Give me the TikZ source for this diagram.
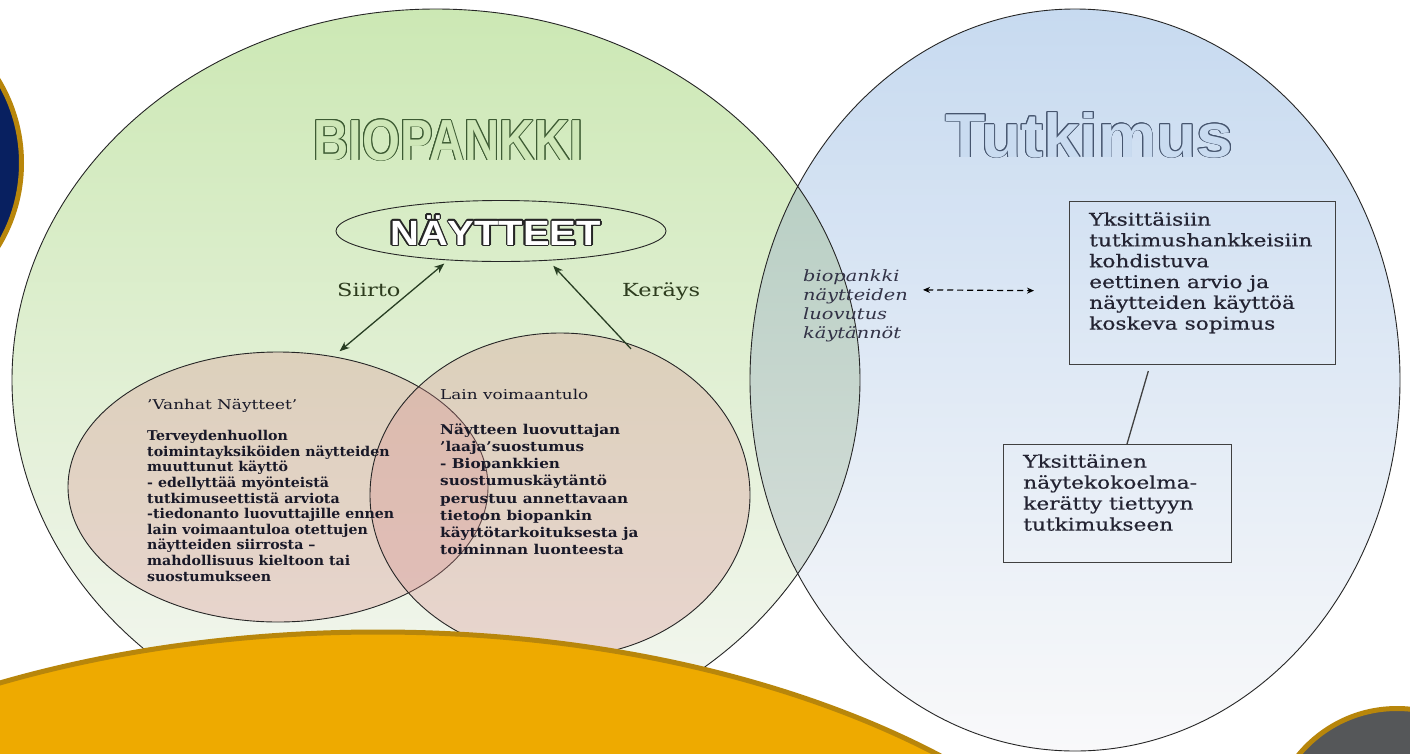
\documentclass[tikz,border=0pt]{standalone}
\usepackage{fontspec}
\usetikzlibrary{shapes.geometric,arrows.meta,calc}
\setmainfont{DejaVu Serif}
\newfontfamily\sr[FakeStretch=1.25]{DejaVu Serif}
\newfontfamily\srb[FakeStretch=1.24,FakeBold=0.4]{DejaVu Serif}
\newfontfamily\sbfa[FakeStretch=1.05]{DejaVu Serif}
\newfontfamily\sbf[FakeStretch=1.13]{DejaVu Serif}
\newfontfamily\tnarrow[FakeStretch=0.84]{Liberation Sans}
\newfontfamily\tsans[FakeStretch=1.06]{Liberation Sans}
\newfontfamily\twide[FakeStretch=1.14]{Liberation Sans}
\newcommand\mynolsl{\lineskiplimit=-20pt\relax}
\definecolor{gTop}{RGB}{204,232,180}
\definecolor{gMid}{RGB}{214,230,200}
\definecolor{gBot}{RGB}{246,247,244}
\definecolor{bTop}{RGB}{199,218,240}
\definecolor{bMid}{RGB}{216,225,238}
\definecolor{bBot}{RGB}{249,249,250}
\definecolor{lTop}{RGB}{174,202,188}
\definecolor{lBot}{RGB}{222,226,224}
\definecolor{pinkc}{RGB}{215,140,140}
\definecolor{bioline}{RGB}{60,90,50}
\definecolor{biofill}{RGB}{206,231,183}
\definecolor{tutline}{RGB}{70,85,110}
\definecolor{tutfill}{RGB}{201,219,240}
\definecolor{arrgreen}{RGB}{40,62,35}
\definecolor{lblgreen}{RGB}{45,60,30}
\definecolor{bodytext}{RGB}{25,25,40}
\definecolor{lenstext}{RGB}{50,50,70}
\definecolor{boxtext}{RGB}{35,35,50}
\definecolor{gold}{RGB}{184,134,11}
\definecolor{navy}{RGB}{8,32,96}
\definecolor{amber}{RGB}{238,170,0}
\definecolor{slate}{RGB}{85,87,89}
\tikzset{
  outl/.style={draw=black!85, line width=0.9pt},
  pinkell/.style={ellipse, inner sep=0pt, fill=pinkc, fill opacity=0.3, draw=black!85, line width=0.9pt},
  arr/.style={draw=arrgreen, line width=1.3pt, -{Stealth[length=10pt,width=8pt]}},
  darr/.style={draw=arrgreen, line width=1.3pt, {Stealth[length=10pt,width=8pt]}-{Stealth[length=10pt,width=8pt]}},
  dasharr/.style={draw=black, line width=1.2pt, dash pattern=on 6pt off 4pt, {Stealth[length=7pt,width=6pt]}-{Stealth[length=7pt,width=6pt]}},
  boxn/.style={draw=black!75, line width=1.3pt, inner sep=0pt, anchor=north west},
  conn/.style={draw=black!75, line width=1.3pt},
  txt/.style={inner sep=0pt, anchor=north west, align=left},
  bigshape/.style={draw=gold, line width=5pt}
}
\begin{document}
\begin{tikzpicture}[x=1pt,y=-1pt]
\useasboundingbox (0,0) rectangle (1410,753);
\clip (0,0) rectangle (1410,753);
\fill[white] (0,0) rectangle (1410,753);
% big ellipses
\shade[top color=gTop, middle color=gMid, bottom color=gBot] (436,380) ellipse [x radius=424, y radius=371];
\shade[top color=bTop, middle color=bMid, bottom color=bBot] (1075,380) ellipse [x radius=325, y radius=371];
\begin{scope}
  \clip (436,380) ellipse [x radius=424, y radius=371];
  \shade[top color=lTop, bottom color=lBot] (1075,380) ellipse [x radius=325, y radius=371];
\end{scope}
\draw[outl] (436,380) ellipse [x radius=424, y radius=371];
\draw[outl] (1075,380) ellipse [x radius=325, y radius=371];
% titles
\foreach \a in {0,30,...,330}
  \node[font=\tnarrow\bfseries\fontsize{58}{58}\selectfont, text=bioline, anchor=base, inner sep=0pt] (bioo\a) at ($(448.5,160)+(\a:0.9)$) {BIOPANKKI};
\node[font=\tnarrow\bfseries\fontsize{58}{58}\selectfont, text=biofill, anchor=base, inner sep=0pt] (bio) at (448.5,160) {BIOPANKKI};
\foreach \a in {0,30,...,330}
  \node[font=\tsans\bfseries\fontsize{62}{62}\selectfont, text=tutline, anchor=base, inner sep=0pt] (tuto\a) at ($(1089.5,157)+(\a:0.9)$) {Tutkimus};
\node[font=\tsans\bfseries\fontsize{62}{62}\selectfont, text=tutfill, anchor=base, inner sep=0pt] (tut) at (1089.5,157) {Tutkimus};
% pink circles
\node[pinkell, minimum width=420, minimum height=270] (vanhat) at (278,487) {};
\node[pinkell, minimum width=380, minimum height=324] (lain) at (560,495) {};
% NAYTTEET
\node[ellipse, draw=black!85, line width=0.9pt, inner sep=0pt, minimum width=330, minimum height=61] (nay) at (501,231) {};
\foreach \a in {0,30,...,330}
  \node[font=\twide\bfseries\fontsize{35}{35}\selectfont, text=black!85, anchor=base, inner sep=0pt] (nayo\a) at ($(495.5,245)+(\a:1.6)$) {NÄYTTEET};
\node[font=\twide\bfseries\fontsize{35}{35}\selectfont, text=white, anchor=base, inner sep=0pt] (naytxt) at (495.5,245) {NÄYTTEET};
% arrows
\draw[darr, shorten <=8pt, shorten >=5pt] (vanhat.67) -- (nay.209.6);
\draw[arr, shorten <=-9pt, shorten >=7pt] (lain.67) -- (nay.328);
\node[font=\sr\fontsize{18}{18}\selectfont, text=lblgreen, anchor=base west, inner sep=0pt] (siirto) at (337,296) {Siirto};
\node[font=\sr\fontsize{18}{18}\selectfont, text=lblgreen, anchor=base west, inner sep=0pt] (kerays) at (622,296) {Keräys};
% circle texts
\node[txt, font={\sbfa\bfseries\fontsize{13.5}{15.6}\selectfont\mynolsl}, text=bodytext] (vt) at (147,399) {%
{\sr\mdseries ’Vanhat Näytteet’}\\[15.6pt]
Terveydenhuollon\\
toimintayksiköiden näytteiden\\
muuttunut käyttö\\
- edellyttää myönteistä\\
tutkimuseettistä arviota\\
-tiedonanto luovuttajille ennen\\
lain voimaantuloa otettujen\\
näytteiden siirrosta –\\
mahdollisuus kieltoon tai\\
suostumukseen};
\node[txt, font={\sbf\bfseries\fontsize{13.5}{17.2}\selectfont\mynolsl}, text=bodytext] (lt) at (440,389.5) {%
{\sr\mdseries Lain voimaantulo}\\[17.2pt]
Näytteen luovuttajan\\
’laaja’suostumus\\
- Biopankkien\\
suostumuskäytäntö\\
perustuu annettavaan\\
tietoon biopankin\\
käyttötarkoituksesta ja\\
toiminnan luonteesta};
% lens text
\node[txt, font=\sr\itshape\fontsize{15.5}{18.7}\selectfont, text=lenstext] (lens) at (803,270) {biopankki\\näytteiden\\luovutus\\käytännöt};
% boxes
\node[boxn, minimum width=266, minimum height=163] (b1) at (1069,201) {};
\node[txt, font=\srb\fontsize{17.5}{20.8}\selectfont, text=boxtext] (b1t) at (1089,212) {Yksittäisiin\\tutkimushankkeisiin\\kohdistuva\\eettinen arvio ja\\näytteiden käyttöä\\koskeva sopimus};
\node[boxn, minimum width=228, minimum height=118] (b2) at (1003,444) {};
\node[txt, font=\srb\fontsize{17.5}{21}\selectfont, text=boxtext] (b2t) at (1023,454) {Yksittäinen\\näytekokoelma-\\kerätty tiettyyn\\tutkimukseen};
\draw[conn, shorten <=6pt] ([xshift=81pt]b1.south west) -- ([xshift=124pt]b2.north west);
\draw[dasharr] ([shift={(15,-16)}]lens.east) -- ([shift={(-35,7.5)}]b1.west);
% decorative shapes
\draw[bigshape, fill=amber] (378,1070) ellipse [x radius=807, y radius=438];
\draw[bigshape, fill=slate] (1397,836) circle [radius=127.5];
\draw[bigshape, fill=navy] (-138.5,163) circle [radius=160];
\end{tikzpicture}
\end{document}
